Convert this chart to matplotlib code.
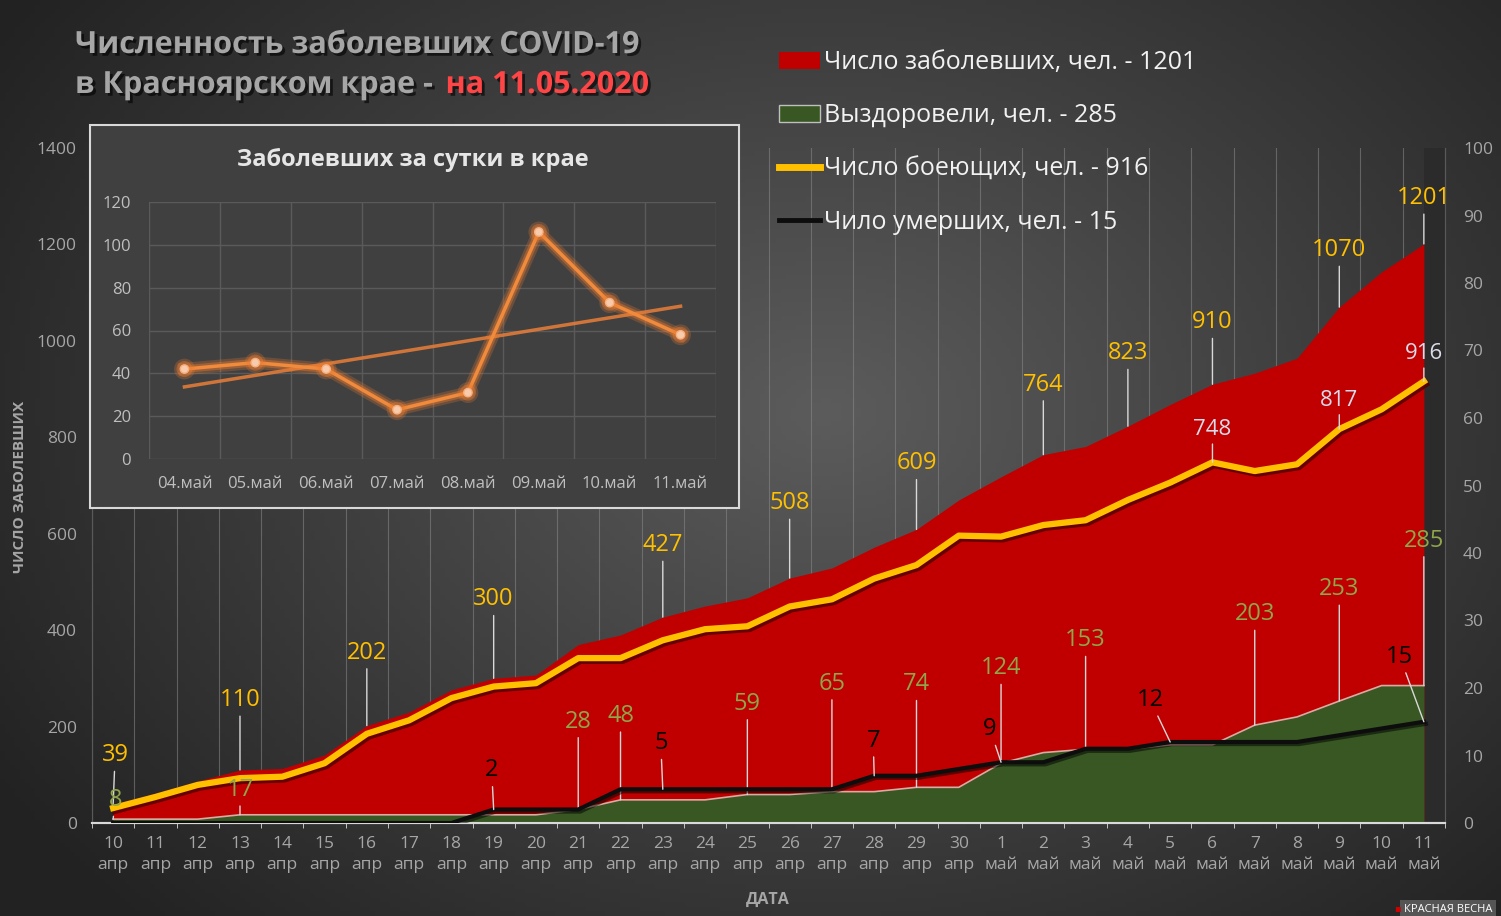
import numpy as np
import matplotlib
matplotlib.use("Agg")
import matplotlib.pyplot as plt
import matplotlib.patheffects as pe
from matplotlib.patches import Patch, Rectangle
from matplotlib.lines import Line2D

plt.rcParams['font.family'] = ['Open Sans', 'DejaVu Sans']

# Даты (10 апр - 11 май)
days = list(range(10, 31)) + list(range(1, 12))
months = ['апр'] * 21 + ['май'] * 11

# Накопленные данные
cases = [39, 62, 87, 110, 113, 141, 202, 230, 276, 300, 307, 370, 390, 427, 450, 467,
         508, 529, 572, 609, 670, 718, 764, 781, 823, 868, 910, 933, 964, 1070, 1143, 1201]
recovered = [8, 8, 8, 17, 17, 17, 17, 17, 17, 17, 17, 28, 48, 48, 48, 59,
             59, 65, 65, 74, 74, 124, 146, 153, 153, 162, 162, 203, 220, 253, 285, 285]
active = [31, 54, 79, 93, 96, 124, 185, 213, 259, 283, 290, 342, 342, 379, 402, 408,
          449, 464, 507, 535, 596, 594, 618, 628, 670, 706, 748, 730, 744, 817, 858, 916]
deaths = [0, 0, 0, 0, 0, 0, 0, 0, 0, 2, 2, 2, 5, 5, 5, 5,
          5, 5, 7, 7, 8, 9, 9, 11, 11, 12, 12, 12, 12, 13, 14, 15]

# Заболевших за сутки (врезка)
daily_dates = ['04.май', '05.май', '06.май', '07.май', '08.май', '09.май', '10.май', '11.май']
daily_new = [42, 45, 42, 23, 31, 106, 73, 58]

# Подписи: индекс дня и смещение подписи (в пикселях)
cases_lbl = [0, 3, 6, 9, 13, 16, 19, 22, 24, 26, 29, 31]
cases_off = [(2, 49), (0, 70), (0, 73), (0, 79), (0, 72), (0, 75), (0, 66), (0, 70),
             (0, 73), (0, 62), (0, 57), (0, 46)]
rec_lbl = [0, 3, 11, 12, 15, 17, 19, 21, 23, 27, 29, 31]
rec_off = [(2, 19), (0, 25), (0, 88), (0, 84), (0, 91), (0, 108), (0, 103), (0, 95),
           (0, 109), (0, 111), (0, 112), (0, 145)]
act_lbl = [26, 29, 31]
act_off = [(0, 33), (0, 29), (0, 28)]
death_lbl = [9, 13, 18, 21, 25, 31]
death_off = [(-2, 39), (-2, 46), (-1, 35), (-11, 33), (-20, 42), (-24, 65)]

W, H = 1501, 916
fig = plt.figure(figsize=(W / 100, H / 100), dpi=100)

# Фон - радиальный градиент
bg = fig.add_axes([0, 0, 1, 1], zorder=-10)
gx, gy = np.meshgrid(np.linspace(0, 1, 300), np.linspace(0, 1, 200))
r = np.sqrt(((gx - 0.55) / 0.65) ** 2 + ((gy - 0.45) / 0.8) ** 2)
r = np.clip(r, 0, 1)
c0 = np.array([0x5c, 0x5c, 0x5c]) / 255
c1 = np.array([0x22, 0x22, 0x22]) / 255
img = c0[None, None, :] * (1 - r[..., None]) + c1[None, None, :] * r[..., None]
bg.imshow(img, extent=[0, 1, 0, 1], aspect='auto', origin='upper')
bg.axis('off')

# Основной график
ax = fig.add_axes([92 / W, (H - 823) / H, (1445 - 92) / W, (823 - 148) / H])
ax.patch.set_alpha(0)
x = np.arange(len(cases))
ax.set_xlim(-0.5, len(cases) - 0.5)
ax.set_ylim(0, 1400)

ax.axvspan(len(cases) - 1, len(cases) - 0.5, color='#2b2b2b', zorder=1, lw=0)
ax.fill_between(x, 0, cases, color='#C00000', lw=0, zorder=2)
ax.fill_between(x, 0, recovered, color='#385723', lw=0, zorder=3)
ax.plot(x, recovered, color='#d4aea4', lw=1.2, zorder=3.5)
ax.plot(x, active, color='#FFC000', lw=4.5, zorder=5, solid_joinstyle='round',
        path_effects=[pe.SimpleLineShadow(offset=(1.5, -2), shadow_color='#500000', alpha=0.8),
                      pe.Normal()])

ax2 = ax.twinx()
ax2.set_ylim(0, 100)
ax2.plot(x, deaths, color='#0d0d0d', lw=3, zorder=5,
         path_effects=[pe.SimpleLineShadow(offset=(1.5, -1.5), shadow_color='#000000', alpha=0.5),
                       pe.Normal()])

# оси
ax.set_xticks(x)
ax.set_xticklabels([f'{d}\n{m}' for d, m in zip(days, months)], linespacing=1.45)
ax.set_xticks(np.arange(-0.5, len(cases), 1), minor=True)
ax.tick_params(axis='x', which='major', length=0, colors='#a6a6a6', labelsize=12.5, pad=9)
ax.tick_params(axis='x', which='minor', length=7, direction='inout', color='#d9d9d9')
ax.tick_params(axis='y', length=0, colors='#a6a6a6', labelsize=12.5, pad=11)
ax.set_yticks(range(0, 1401, 200))
ax2.set_yticks(range(0, 101, 10))
ax2.tick_params(axis='y', length=0, colors='#a6a6a6', labelsize=12.5, pad=13)
ax.grid(which='minor', axis='x', color='#8a8a8a', lw=0.8, alpha=0.55)
ax.set_axisbelow(True)
for a in (ax, ax2):
    a.spines['top'].set_visible(False)
    a.spines['left'].set_color('#595959')
    a.spines['right'].set_color('#595959')
    a.spines['bottom'].set_color('#d9d9d9')
    a.spines['bottom'].set_linewidth(1.5)

# подписи данных
def label(axis, idx, offs, vals, color, size=17):
    for i, (dx, dy) in zip(idx, offs):
        axis.annotate(str(vals[i]), xy=(i, vals[i]), xytext=(dx, dy), textcoords='offset pixels',
                      ha='center', va='center', color=color, fontsize=size, zorder=8,
                      arrowprops=dict(arrowstyle='-', color='#d9d9d9', lw=1, shrinkA=1, shrinkB=0))

label(ax, cases_lbl, cases_off, cases, '#FFC000')
label(ax, rec_lbl, rec_off, recovered, '#8FA64A')
label(ax, act_lbl, act_off, active, '#D9DCEB', size=16)
label(ax2, death_lbl, death_off, deaths, '#000000')

fig.text(20 / W, 1 - 487 / H, 'ЧИСЛО ЗАБОЛЕВШИХ', rotation=90, ha='center', va='center',
         color='#a6a6a6', fontsize=11, fontweight='bold')
fig.text(768 / W, 1 - 900 / H, 'ДАТА', ha='center', va='center',
         color='#a6a6a6', fontsize=11.5, fontweight='bold')

# Заголовок
shadow = [pe.withSimplePatchShadow(offset=(2, -2), shadow_rgbFace='black', alpha=0.6)]
fig.text(75 / W, 1 - 45 / H, 'Численность заболевших COVID-19', ha='left', va='center',
         color='#a6a6a6', fontsize=22, fontweight='bold', path_effects=shadow)
t2 = fig.text(75 / W, 1 - 85 / H, 'в Красноярском крае - ', ha='left', va='center',
              color='#a6a6a6', fontsize=22, fontweight='bold', path_effects=shadow)
fig.canvas.draw()
x_end = t2.get_window_extent().x1 / W
fig.text(x_end + 6 / W, 1 - 85 / H, 'на 11.05.2020', ha='left', va='center',
         color='#FF4545', fontsize=22, fontweight='bold', path_effects=shadow)

# Легенда
handles = [Patch(facecolor='#C00000', edgecolor='none'),
           Patch(facecolor='#385723', edgecolor='#bfbfbf'),
           Line2D([], [], color='#FFC000', lw=5),
           Line2D([], [], color='#0d0d0d', lw=3.5)]
labels = ['Число заболевших, чел. - 1201', 'Выздоровели, чел. - 285',
          'Число боеющих, чел. - 916', 'Чило умерших, чел. - 15']
fig.legend(handles, labels, loc='upper left', bbox_to_anchor=(779 / W, 1 - 50 / H),
           frameon=False, fontsize=18, labelcolor='#f2f2f2', handlelength=1.65,
           handleheight=0.7, handletextpad=0.15, labelspacing=1.13,
           borderaxespad=0, borderpad=0)

# Врезка
box = Rectangle((90 / W, 1 - 508 / H), 649 / W, 383 / H, transform=fig.transFigure,
                facecolor='#404040', edgecolor='#d9d9d9', lw=1.5, zorder=1)
fig.add_artist(box)
fig.text(413 / W, 1 - 160 / H, 'Заболевших за сутки в крае', ha='center', va='center',
         color='#e6e6e6', fontsize=17, fontweight='bold', zorder=3)

ins = fig.add_axes([149 / W, 1 - 459 / H, 567 / W, 257 / H], zorder=3)
ins.patch.set_alpha(0)
xi = np.arange(len(daily_new))
ins.set_xlim(-0.5, len(daily_new) - 0.5)
ins.set_ylim(0, 120)
ins.set_yticks(range(0, 121, 20))
ins.set_xticks(xi)
ins.set_xticklabels(daily_dates)
ins.set_xticks(np.arange(-0.5, len(daily_new), 1), minor=True)
ins.grid(axis='y', color='#5a5a5a', lw=1)
ins.grid(which='minor', axis='x', color='#5a5a5a', lw=1)
ins.set_axisbelow(True)
ins.tick_params(which='both', length=0, colors='#bfbfbf', labelsize=12)
ins.tick_params(axis='y', pad=13)
ins.tick_params(axis='x', pad=12)
for s in ins.spines.values():
    s.set_visible(False)

coef = np.polyfit(xi, daily_new, 1)
ins.plot(xi, np.polyval(coef, xi), color='#E07B3A', lw=2.5, alpha=0.9, zorder=3)
glow = [pe.Stroke(linewidth=9, foreground='#ED7D31', alpha=0.25),
        pe.Stroke(linewidth=5.5, foreground='#ED7D31', alpha=0.4), pe.Normal()]
ins.plot(xi, daily_new, color='#F08A3C', lw=2.5, marker='o', ms=6, mfc='#F8CBAD',
         mec='#F4B183', zorder=4, path_effects=glow)

# Водяной знак
fig.text(1404 / W, 1 - 909 / H, 'КРАСНАЯ ВЕСНА', ha='left', va='center', color='white',
         fontsize=8,
         bbox=dict(boxstyle='square,pad=0.35', facecolor='#555555', edgecolor='none'))
fig.text(1394 / W, 1 - 909 / H, '▪', ha='left', va='center', color='#d00000', fontsize=7)

fig.savefig('out.png', dpi=100)
